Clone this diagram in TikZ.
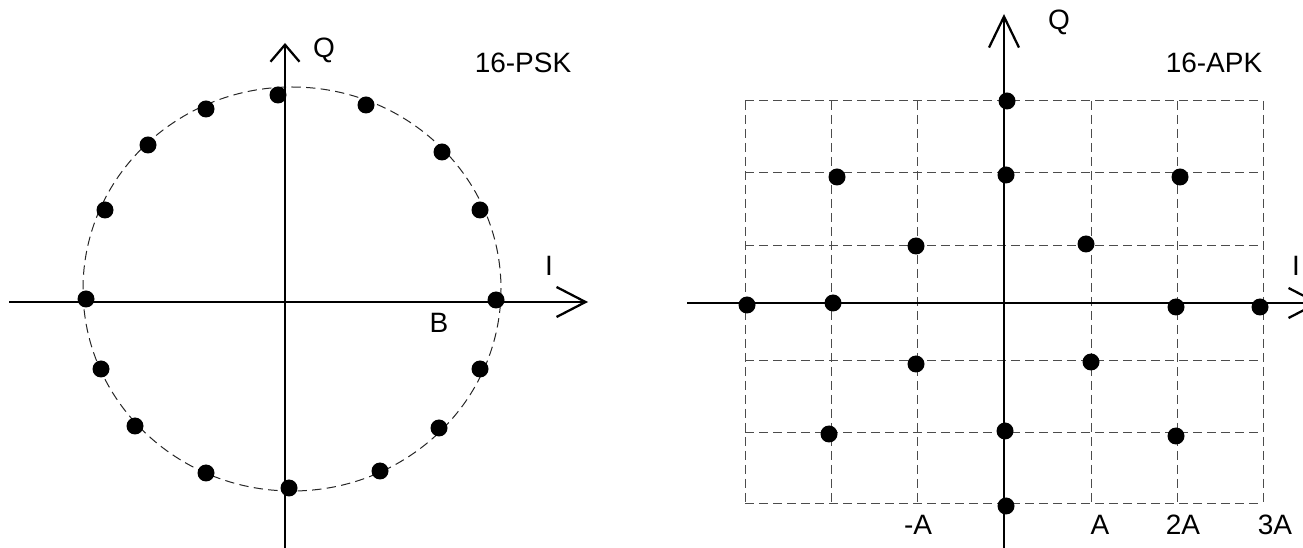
\documentclass[tikz,border=0pt]{standalone}
\usepackage{fontspec}
\setmainfont{Liberation Sans}
\usetikzlibrary{arrows.meta}
\tikzset{
  axis/.style    = {line width=1.7pt, draw=black},
  ring/.style    = {line width=0.75pt, draw=black!85, dash pattern=on 7pt off 4pt},
  gridline/.style= {line width=0.75pt, draw=black!70, dash pattern=on 6.75pt off 3.75pt},
  dot/.style     = {circle, fill=black, inner sep=0pt, minimum size=12.75pt},
  lbl/.style     = {font=\fontsize{21}{25}\selectfont, inner sep=0pt},
}

\begin{document}
\begin{tikzpicture}[x=0.75pt, y=-0.75pt]
  \useasboundingbox (0,0) rectangle (1303,548);

  % --- 16-PSK ---
  \draw[ring] (292,289) ellipse [x radius=209, y radius=202];
  \coordinate (pskW) at (9,302);   \coordinate (pskE) at (588,302);
  \coordinate (pskS) at (285,548); \coordinate (pskN) at (285,43);
  \draw[axis, -{Straight Barb[length=21.75pt,width=22.5pt]}] (pskW) -- (pskE);
  \draw[axis, -{Straight Barb[length=12.75pt,width=21.75pt]}] (pskS) -- (pskN);
  \foreach \x/\y [count=\i] in {278/95,366/105,442/152,480/210,496/300,480/369,
      439/428,380/471,289/488,206/473,135/426,101/369,86/299,105/210,148/145,206/109}
    \node[dot] (psk\i) at (\x,\y) {};
  \node[lbl] (pskQ) at (324,50) {Q};
  \node[lbl] (pskI) at (549,266) {I};
  \node[lbl] (pskB) at (439,323) {B};
  \node[lbl] (pskT) at (523,63) {16-PSK};

  % --- 16-APK ---
  \foreach \x in {745,831,917,1091,1177,1263}
    \draw[gridline] (\x,101) -- (\x,504);
  \foreach \y in {101,173,246,361,433,504}
    \draw[gridline] (745,\y) -- (1263,\y);
  \coordinate (apkW) at (687,303);  \coordinate (apkE) at (1320,303);
  \coordinate (apkS) at (1004,548); \coordinate (apkN) at (1004,14);
  \draw[axis, -{Straight Barb[length=21.75pt,width=22.5pt]}] (apkW) -- (apkE);
  \draw[axis, -{Straight Barb[length=23.25pt,width=22.5pt]}] (apkS) -- (apkN);
  \foreach \x/\y [count=\i] in {1007/101,1006/175,837/177,1180/177,916/246,1086/244,
      747/305,833/303,1176/307,1260/307,916/364,1091/362,829/434,1005/431,1176/436,1006/506}
    \node[dot] (apk\i) at (\x,\y) {};
  \node[lbl] (apkQ) at (1059,22) {Q};
  \node[lbl] (apkI) at (1296,266) {I};
  \node[lbl] (apkT) at (1214,63) {16-APK};
  \node[lbl] (apkm1) at (918,525) {-A};
  \node[lbl] (apkp1) at (1100,525) {A};
  \node[lbl] (apkp2) at (1183,525) {2A};
  \node[lbl] (apkp3) at (1275,525) {3A};
\end{tikzpicture}
\end{document}
